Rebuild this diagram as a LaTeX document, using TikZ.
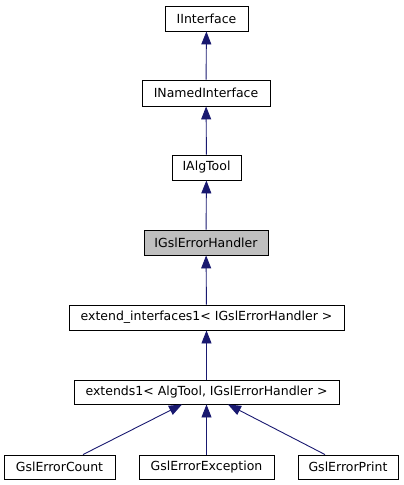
\documentclass[tikz,border=0pt]{standalone}
\usepackage{fontspec}
\setmainfont{DejaVu Sans}
\usetikzlibrary{arrows.meta}
\definecolor{edgeblue}{RGB}{25,25,112}
\definecolor{hl}{RGB}{191,191,191}
\begin{document}
\begin{tikzpicture}[x=1bp,y=-1bp,
  cls/.style={draw=black,line width=0.9bp,inner sep=0pt,minimum height=25bp,font=\fontsize{12.5bp}{14bp}\selectfont},
  inh/.style={draw=edgeblue,line width=0.9bp,-{Triangle[length=13bp,width=10bp,fill=edgeblue]}}]
\useasboundingbox (0,0) rectangle (403,485);
\node[cls,minimum width=83bp] (ii) at (206.5,18.5) {IInterface};
\node[cls,minimum width=128bp,minimum height=26bp] (ini) at (206,93) {INamedInterface};
\node[cls,minimum width=69bp] (iat) at (206.5,167.5) {IAlgTool};
\node[cls,minimum width=124bp,fill=hl] (igeh) at (206,242.5) {IGslErrorHandler};
\node[cls,minimum width=275bp] (ei) at (206.5,317.5) {extend\_interfaces1< IGslErrorHandler >};
\node[cls,minimum width=265bp,minimum height=24bp] (ex) at (206.5,392) {extends1< AlgTool, IGslErrorHandler >};
\node[cls,minimum width=111bp,minimum height=24bp] (cnt) at (59.5,467) {GslErrorCount};
\node[cls,minimum width=135bp,minimum height=24bp] (exc) at (206.5,467) {GslErrorException};
\node[cls,minimum width=100bp,minimum height=24bp] (prt) at (348,467) {GslErrorPrint};
\draw[inh] (ini) -- (ii);
\draw[inh] (iat) -- (ini);
\draw[inh] (igeh) -- (iat);
\draw[inh] (ei) -- (igeh);
\draw[inh] (ex) -- (ei);
\draw[inh] ([xshift=23.5bp]cnt.north) -- ([xshift=-24.5bp]ex.south);
\draw[inh] (exc) -- (ex);
\draw[inh] ([xshift=-23bp]prt.north) -- ([xshift=21.5bp]ex.south);
\end{tikzpicture}
\end{document}
